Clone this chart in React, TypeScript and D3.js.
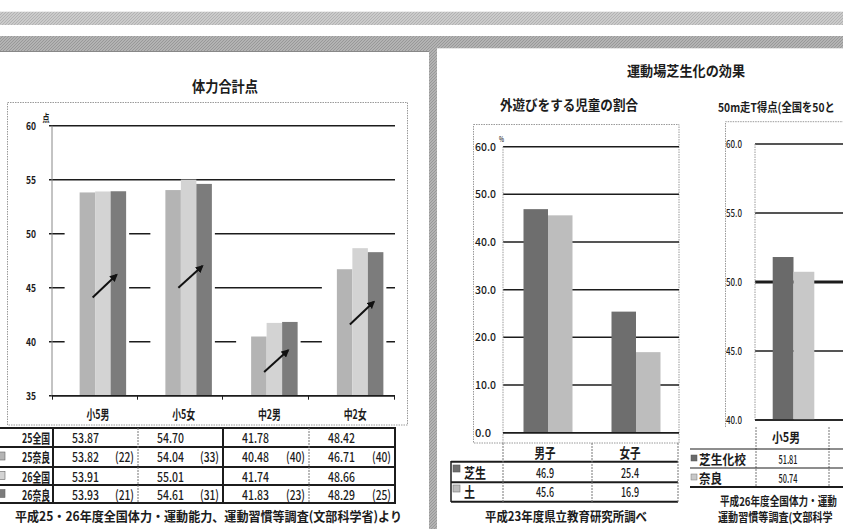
import React from 'react';
import * as d3 from 'd3';

// 体力合計点 (left)
const fitCats = ['小5男', '小5女', '中2男', '中2女'];
const fitRows = ['25全国', '25奈良', '26全国', '26奈良'];
const nat25 = [53.87, 54.70, 41.78, 48.42];
const nara25 = [53.82, 54.04, 40.48, 46.71];
const nat26 = [53.91, 55.01, 41.74, 48.66];
const nara26 = [53.93, 54.61, 41.83, 48.29];
const rank25 = [22, 33, 40, 40];
const rank26 = [21, 31, 23, 25];
const fitTicks = [35, 40, 45, 50, 55, 60];
const arrowFrom = [44.1, 45.0, 37.2, 41.6];
const arrowTo = [46.2, 47.0, 39.2, 43.7];

// 外遊びをする児童の割合 (middle)
const playCats = ['男子', '女子'];
const playShiba = [46.9, 25.4];
const playTsuchi = [45.6, 16.9];
const playTicks = [0, 10, 20, 30, 40, 50, 60];

// 50m走T得点 (right, cut off at the page edge)
const runCats = ['小5男'];
const runShiba = [51.81];
const runNara = [50.74];
const runTicks = [40, 45, 50, 55, 60];

const FONT = '"Noto Sans CJK JP", "Noto Sans", sans-serif';
const INK = '#1c1c1c';

type TP = {
  x: number; y: number; size?: number; w?: number; sx?: number;
  anchor?: 'start' | 'middle' | 'end'; weight?: number; children: React.ReactNode;
};

const T = ({ x, y, size = 12, w, sx, anchor = 'start', weight = 700, children }: TP) => {
  if (sx) {
    return (
      <text transform={`translate(${x},${y}) scale(${sx},1)`} fontSize={size} fontWeight={weight}
        fontFamily={FONT} textAnchor={anchor} fill={INK}>{children}</text>
    );
  }
  return (
    <text x={x} y={y} fontSize={size} fontWeight={weight} fontFamily={FONT} textAnchor={anchor}
      fill={INK} textLength={w} lengthAdjust={w ? 'spacingAndGlyphs' : undefined}>{children}</text>
  );
};

const fitColors = ['#b4b4b4', '#d3d3d3', '#7c7c7c'];

function FitChart() {
  const x = d3.scaleBand<string>().domain(fitCats).range([52, 395]);
  const y = d3.scaleLinear().domain([35, 60]).range([395.7, 125.7]);
  const series = [nara25, nat26, nara26];
  const bw = 15.5;
  const gx = (i: number) => (x(fitCats[i]) as number) + x.bandwidth() / 2 + 8 - (bw * 3) / 2;
  const colX = [53, 138, 223, 309, 395];
  const rowLines = [428, 447, 467, 485, 503];
  const rowBase = [442.5, 462, 481.5, 499.5];
  const tableVals = [nat25, nara25, nat26, nara26];
  const ranks = [null, rank25, null, rank26];
  const markers = [null, fitColors[0], fitColors[1], fitColors[2]];

  return (
    <g>
      <T x={225} y={92} size={15} w={66} anchor="middle">体力合計点</T>
      <rect x={7.5} y={102.5} width={400} height={322.5} fill="none" stroke="#9a9a9a" strokeDasharray="1.5 1" />
      <T x={46} y={122} size={10} w={7} anchor="middle">点</T>
      {fitTicks.map(t => (
        <g key={t}>
          <line x1={49} x2={395} y1={y(t)} y2={y(t)} stroke={INK} strokeWidth={1.6} />
          <T x={36} y={y(t) + 4.5} size={11} w={10} anchor="end" weight={600}>{t}</T>
        </g>
      ))}
      <line x1={52} x2={52} y1={y(60)} y2={y(35)} stroke="#888" strokeWidth={1} />
      {fitCats.map((c, i) => (
        <rect key={'bk' + c} x={gx(i) - 15} y={y(series[0][i]) + 4} width={bw * 3 + 18}
          height={y(35) - y(series[0][i]) - 5} fill="#fff" />
      ))}
      {fitCats.map((c, i) => series.map((s, j) => (
        <rect key={c + j} x={gx(i) + j * bw} y={y(s[i])} width={bw} height={y(35) - y(s[i])}
          fill={fitColors[j]} />
      )))}
      {fitCats.map((c, i) => (
        <line key={'ar' + c} x1={gx(i) + 13} y1={y(arrowFrom[i])} x2={gx(i) + 37} y2={y(arrowTo[i])}
          stroke="#111" strokeWidth={2} markerEnd="url(#arrowHead)" />
      ))}
      <line x1={52} x2={395} y1={y(35)} y2={y(35)} stroke={INK} strokeWidth={1.6} />
      {colX.map(cx => (
        <line key={'tk' + cx} x1={cx - 0.5} x2={cx - 0.5} y1={y(35)} y2={y(35) + 4} stroke={INK} strokeWidth={1} />
      ))}
      {fitCats.map(c => (
        <T key={'lb' + c} x={(x(c) as number) + x.bandwidth() / 2 + 3} y={419} size={13} w={23} anchor="middle">{c}</T>
      ))}

      {/* data table */}
      {rowLines.map(ry => (
        <line key={'rl' + ry} x1={0} x2={396} y1={ry} y2={ry} stroke={INK} strokeWidth={2} />
      ))}
      {colX.map((cx, i) => (
        <line key={'cl' + cx} x1={cx} x2={cx} y1={428} y2={503} stroke={i % 2 === 1 ? '#777' : INK}
          strokeWidth={i % 2 === 1 ? 1 : 2} strokeDasharray={i % 2 === 1 ? '2 1' : undefined} />
      ))}
      {fitRows.map((r, ri) => (
        <g key={r}>
          {markers[ri] && (
            <rect x={-3} y={rowBase[ri] - 10} width={8} height={8} fill={markers[ri] as string} stroke="#666" strokeWidth={0.6} />
          )}
          <T x={50} y={rowBase[ri]} size={13} w={28} anchor="end">{r}</T>
          {fitCats.map((c, ci) => (
            <g key={c}>
              <T x={colX[ci] + 19} y={rowBase[ri]} size={13} w={27} weight={500}>{tableVals[ri][ci].toFixed(2)}</T>
              {ranks[ri] && (
                <T x={colX[ci + 1] - 4} y={rowBase[ri]} size={13} w={19} anchor="end" weight={500}>{`(${(ranks[ri] as number[])[ci]})`}</T>
              )}
            </g>
          ))}
        </g>
      ))}
      <T x={15} y={521} size={13} w={387}>平成25・26年度全国体力・運動能力、運動習慣等調査(文部科学省)より</T>
    </g>
  );
}

function PlayChart() {
  const x = d3.scaleBand<string>().domain(playCats).range([503, 679]);
  const y = d3.scaleLinear().domain([0, 60]).range([432.7, 146.7]);
  const bw = 24.5;
  const gx = (c: string) => (x(c) as number) + x.bandwidth() / 2 + 1 - bw;
  const colC = [545, 630];
  return (
    <g>
      <T x={627} y={76} size={14} w={118}>運動場芝生化の効果</T>
      <T x={500} y={110} size={14} w={138}>外遊びをする児童の割合</T>
      <rect x={473.5} y={124.5} width={205.5} height={318.5} fill="none" stroke="#9a9a9a" strokeDasharray="1.5 1" />
      <T x={499} y={142} size={8} w={5} weight={500}>%</T>
      {playTicks.map(t => (
        <g key={t}>
          <line x1={503} x2={679} y1={y(t)} y2={y(t)} stroke={INK} strokeWidth={1.5} />
          <T x={475} y={y(t) + 4} size={11} w={t === 0 ? 16 : 21} weight={500}>{t.toFixed(1)}</T>
        </g>
      ))}
      <line x1={503} x2={503} y1={y(60)} y2={443} stroke="#999" strokeWidth={1} strokeDasharray="1.5 1" />
      {playCats.map((c, i) => (
        <g key={c}>
          <rect x={gx(c)} y={y(playShiba[i])} width={bw} height={y(0) - y(playShiba[i])} fill="#6e6e6e" />
          <rect x={gx(c) + bw} y={y(playTsuchi[i])} width={bw} height={y(0) - y(playTsuchi[i])} fill="#bdbdbd" />
        </g>
      ))}
      <line x1={503} x2={679} y1={y(0)} y2={y(0)} stroke={INK} strokeWidth={1.6} />

      {/* data table */}
      {[461.7, 482.3, 501.7].map(ry => (
        <line key={ry} x1={451} x2={678} y1={ry} y2={ry} stroke={INK} strokeWidth={2} />
      ))}
      <line x1={451} x2={451} y1={461} y2={502} stroke={INK} strokeWidth={1.5} />
      {[503, 592, 678].map(cx => (
        <line key={cx} x1={cx} x2={cx} y1={443} y2={502} stroke="#777" strokeWidth={1} strokeDasharray="2 1" />
      ))}
      {playCats.map((c, i) => (
        <g key={'t' + c}>
          <T x={colC[i]} y={458} size={14} w={21} anchor="middle">{c}</T>
          <T x={colC[i]} y={477.5} size={13} w={18} anchor="middle" weight={500}>{playShiba[i].toFixed(1)}</T>
          <T x={colC[i]} y={497} size={13} w={18} anchor="middle" weight={500}>{playTsuchi[i].toFixed(1)}</T>
        </g>
      ))}
      <rect x={453} y={465} width={7} height={7} fill="#6e6e6e" stroke="#555" strokeWidth={0.6} />
      <T x={464} y={477.5} size={14} w={22}>芝生</T>
      <rect x={453} y={485} width={7} height={7} fill="#bdbdbd" stroke="#777" strokeWidth={0.6} />
      <T x={464} y={497} size={14} w={11}>土</T>
      <T x={485} y={521} size={13} w={162}>平成23年度県立教育研究所調べ</T>
    </g>
  );
}

function RunChart() {
  const x = d3.scaleBand<string>().domain(runCats).range([756, 829]);
  const y = d3.scaleLinear().domain([40, 60]).range([420, 144]);
  const bw = 20.8;
  const gx = (c: string) => (x(c) as number) + x.bandwidth() / 2 + 1 - bw;
  return (
    <g>
      <T x={718} y={112} size={12} sx={0.86} weight={600}>50m走T得点(全国を50と</T>
      <path d="M725.5,427 V121.7 H850" fill="none" stroke="#9a9a9a" strokeDasharray="1.5 1" />
      {runTicks.map(t => (
        <g key={t}>
          <line x1={755} x2={850} y1={y(t)} y2={y(t)} stroke={INK} strokeWidth={t === 50 ? 3 : 1.4} />
          <T x={726} y={y(t) + 4} size={10} w={16} weight={500}>{t.toFixed(1)}</T>
        </g>
      ))}
      <line x1={755} x2={755} y1={y(60)} y2={y(40)} stroke="#999" strokeWidth={1} strokeDasharray="1.5 1" />
      {runCats.map((c, i) => (
        <g key={c}>
          <rect x={gx(c)} y={y(runShiba[i])} width={bw} height={y(40) - y(runShiba[i])} fill="#6a6a6a" />
          <rect x={gx(c) + bw} y={y(runNara[i])} width={bw} height={y(40) - y(runNara[i])} fill="#c8c8c8" />
        </g>
      ))}
      <line x1={755} x2={850} y1={y(40)} y2={y(40)} stroke={INK} strokeWidth={1.4} />

      {/* data table */}
      {[756, 829].map(cx => (
        <line key={cx} x1={cx} x2={cx} y1={427} y2={487} stroke="#777" strokeWidth={1} strokeDasharray="2 1" />
      ))}
      <line x1={690} x2={850} y1={449} y2={449} stroke={INK} strokeWidth={1.2} />
      <line x1={690} x2={850} y1={468} y2={468} stroke={INK} strokeWidth={1.2} />
      <line x1={690} x2={850} y1={487} y2={487} stroke={INK} strokeWidth={2} />
      {runCats.map((c, i) => (
        <g key={'t' + c}>
          <T x={786} y={442} size={13} w={28} anchor="middle" weight={600}>{c}</T>
          <T x={788} y={464} size={12} w={19} anchor="middle" weight={500}>{runShiba[i].toFixed(2)}</T>
          <T x={788} y={483} size={12} w={19} anchor="middle" weight={500}>{runNara[i].toFixed(2)}</T>
        </g>
      ))}
      <rect x={691} y={455} width={6} height={6} fill="#6a6a6a" stroke="#555" strokeWidth={0.5} />
      <T x={699} y={464} size={13} w={47} weight={600}>芝生化校</T>
      <rect x={691} y={474} width={6} height={6} fill="#c8c8c8" stroke="#777" strokeWidth={0.5} />
      <T x={699} y={483} size={13} w={23} weight={600}>奈良</T>
      <T x={720} y={506} size={12} sx={0.8} weight={600}>平成26年度全国体力・運動</T>
      <T x={718} y={522} size={12} sx={0.84} weight={600}>運動習慣等調査(文部科学</T>
    </g>
  );
}

export default function App() {
  return (
    <svg width={843} height={529} style={{ position: 'absolute', left: 0, top: 0, background: '#fff' }}>
      <defs>
        <pattern id="hatchLight" width={3} height={3} patternUnits="userSpaceOnUse">
          <rect width={3} height={3} fill="#cbcbcb" />
          <path d="M0,3 L3,0" stroke="#a8a8a8" strokeWidth={0.7} />
        </pattern>
        <pattern id="hatchDark" width={3} height={3} patternUnits="userSpaceOnUse">
          <rect width={3} height={3} fill="#b3b3b3" />
          <path d="M0,3 L3,0" stroke="#8c8c8c" strokeWidth={0.7} />
        </pattern>
        <marker id="arrowHead" viewBox="0 0 10 10" refX={8} refY={5} markerWidth={4} markerHeight={4} orient="auto">
          <path d="M0,0 L10,5 L0,10 z" fill="#111" />
        </marker>
      </defs>
      <rect width={843} height={529} fill="#fff" />
      {/* page bands */}
      <rect x={0} y={11.7} width={843} height={13.3} fill="url(#hatchLight)" />
      <rect x={0} y={36} width={437} height={16} fill="url(#hatchDark)" />
      <line x1={0} x2={430} y1={51.5} y2={51.5} stroke="#888" strokeWidth={1} />
      <rect x={437} y={36} width={406} height={12.3} fill="url(#hatchDark)" />
      <rect x={429} y={48} width={8} height={481} fill="url(#hatchDark)" />

      <FitChart />
      <PlayChart />
      <RunChart />
    </svg>
  );
}
